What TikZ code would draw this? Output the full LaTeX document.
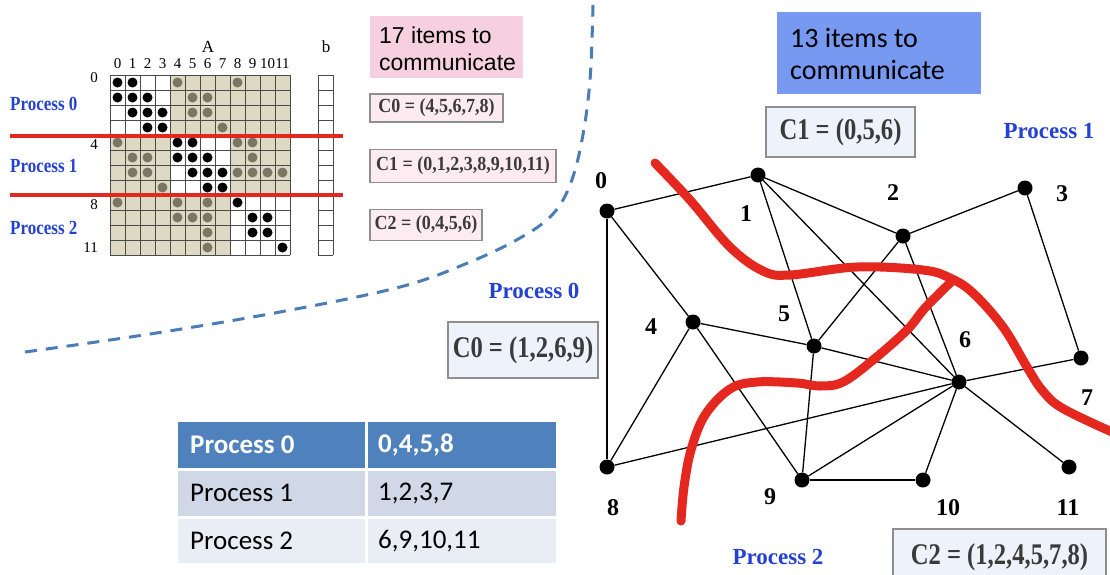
\documentclass[tikz,border=0pt]{standalone}
\usepackage{fontspec}
\setmainfont{Liberation Serif}
\newfontfamily\arialf{Liberation Sans}
\newfontfamily\calibf{Carlito}
\newfontfamily\condg[FakeStretch=0.82]{Liberation Serif}
\newfontfamily\condm[FakeStretch=0.9]{Liberation Serif}
\newfontfamily\condp[FakeStretch=0.85]{Liberation Serif}
\definecolor{beige}{HTML}{DDD9C3}
\definecolor{dotgray}{HTML}{7A7664}
\definecolor{pblue}{HTML}{2442D2}
\definecolor{redc}{HTML}{E4281F}
\definecolor{dashblue}{HTML}{4A7DB5}
\definecolor{pinkbox}{HTML}{F6D0DF}
\definecolor{lpink}{HTML}{FCEBF0}
\definecolor{lblue}{HTML}{EEF2FA}
\definecolor{bluebox}{HTML}{7799F2}
\definecolor{boxgray}{HTML}{8E8E8E}
\definecolor{boxtext}{HTML}{3A3A3A}
\definecolor{thead}{HTML}{4F81BD}
\definecolor{trowa}{HTML}{D0D8E8}
\definecolor{trowb}{HTML}{E9EDF4}
\definecolor{gridc}{HTML}{4A4A4A}
\begin{document}
\begin{tikzpicture}[x=1pt,y=-1pt,
  gnode/.style={circle, fill=black, inner sep=0pt, minimum size=15pt},
  glabel/.style={font=\fontsize{24}{24}\selectfont\bfseries},
  gedge/.style={line width=1.3pt},
  proc/.style={text=pblue, inner sep=0pt},
  procm/.style={proc, anchor=west, font=\condp\fontsize{20}{20}\selectfont\bfseries},
  procg/.style={proc, font=\fontsize{23}{23}\selectfont\bfseries},
  cbox/.style={draw=boxgray, line width=2.5pt, fill=lblue, inner sep=0pt, text=boxtext,
     font=\condg\fontsize{30}{30}\selectfont\bfseries},
  mbox/.style={draw=boxgray, line width=1.5pt, fill=lpink, inner sep=0pt, text=boxtext,
     font=\condm\fontsize{20}{20}\selectfont\bfseries},
  redcut/.style={draw=redc, line width=9pt, line cap=round},
  gridline/.style={draw=gridc, line width=0.8pt},
  mlabel/.style={font=\fontsize{15}{15}\selectfont, inner sep=0pt},
  ttext/.style={anchor=west, inner sep=0pt, font=\calibf\fontsize{27}{27}\selectfont},
  thtext/.style={ttext, text=white, font=\calibf\fontsize{27}{27}\selectfont\bfseries},
]
\useasboundingbox (0,0) rectangle (1110,574);
\clip (0,0) rectangle (1110,574);
\fill[white] (0,0) rectangle (1110,574);

% ---------------- matrix ----------------
\fill[beige] (110,75) rectangle (290,255);
\fill[white] (110,75) rectangle (170,135);
\fill[white] (170,135) rectangle (230,195);
\fill[white] (230,195) rectangle (290,255);
\foreach \i in {0,...,12}{
  \draw[gridline] (110+15*\i,75) -- (110+15*\i,255);
  \draw[gridline] (110,75+15*\i) -- (290,75+15*\i);
}
% b vector
\foreach \i in {0,...,12}{
  \draw[gridline] (318,75+15*\i) -- (333,75+15*\i);
}
\draw[gridline] (318,75) -- (318,255);
\draw[gridline] (333,75) -- (333,255);

\foreach \r/\c in {0/0,0/1,1/0,1/1,1/2,2/1,2/2,2/3,3/2,3/3,4/4,4/5,5/4,5/5,5/6,6/5,6/6,6/7,7/6,7/7,8/8,9/9,9/10,10/9,10/10,11/11}
  \fill[black] (117.5+15*\c,82.5+15*\r) circle[radius=5pt];
\foreach \r/\c in {0/4,0/8,1/5,1/6,2/5,2/6,3/7,4/0,4/8,4/9,5/1,5/2,5/9,6/1,6/2,6/8,6/9,6/10,6/11,7/3,8/0,8/4,8/6,9/4,9/5,9/6,10/6,11/6}
  \fill[dotgray] (117.5+15*\c,82.5+15*\r) circle[radius=5pt];

\foreach \c in {0,...,11}
  \node[mlabel] (col\c) at (117.5+15*\c,64) {\c};
\node[font=\fontsize{17}{17}\selectfont, inner sep=0pt] (Alab) at (208,47) {A};
\node[font=\fontsize{17}{17}\selectfont, inner sep=0pt] (blab) at (326,47) {b};
\node[mlabel, anchor=east] (r0) at (98,78) {0};
\node[mlabel, anchor=east] (r4) at (98,145) {4};
\node[mlabel, anchor=east] (r8) at (98,205) {8};
\node[mlabel, anchor=east] (r11) at (98,248) {11};

\draw[draw=redc, line width=4pt] (10,136) -- (343,136);
\draw[draw=redc, line width=4pt] (10,195) -- (343,195);

\node[procm] (mp0) at (10,104) {Process 0};
\node[procm] (mp1) at (10,166) {Process 1};
\node[procm] (mp2) at (10,228) {Process 2};

% boxes next to matrix
\fill[pinkbox] (370,16) rectangle (523,78);
\node[anchor=base west, inner sep=0pt, font=\arialf\fontsize{23}{23}\selectfont] (t17a) at (379,43) {17 items to};
\node[anchor=base west, inner sep=0pt, font=\arialf\fontsize{23}{23}\selectfont] (t17b) at (379,70) {communicate};

\node[mbox, minimum width=133pt, minimum height=28pt] (mc0) at (436.5,108) {C0 = (4,5,6,7,8)};
\node[mbox, minimum width=186pt, minimum height=33pt] (mc1) at (463,166) {C1 = (0,1,2,3,8,9,10,11)};
\node[mbox, minimum width=112pt, minimum height=31pt] (mc2) at (426,225) {C2 = (0,4,5,6)};

% dashed separator
\draw[dashblue, line width=3pt, dash pattern=on 12pt off 9pt]
  plot[smooth, tension=0.6] coordinates {(25,352) (150,334) (280,312) (400,287) (470,262) (520,238) (552,215) (570,185) (582,140) (590,80) (593,5)};

% ---------------- graph ----------------
\fill[bluebox] (777,12) rectangle (981,94);
\node[anchor=base west, inner sep=0pt, font=\calibf\fontsize{28}{28}\selectfont] (t13a) at (790,47) {13 items to};
\node[anchor=base west, inner sep=0pt, font=\calibf\fontsize{28}{28}\selectfont] (t13b) at (790,79) {communicate};

\node[cbox, minimum width=149pt, minimum height=50pt] (gc1) at (840.5,132) {C1 = (0,5,6)};
\node[cbox, minimum width=150pt, minimum height=56pt] (gc0) at (523,350) {C0 = (1,2,6,9)};
\node[cbox, minimum width=213pt, minimum height=56pt] (gc2) at (999.5,557) {C2 = (1,2,4,5,7,8)};

\node[procg] (gp1) at (1049,131) {Process 1};
\node[procg] (gp0) at (534,291) {Process 0};
\node[procg] (gp2) at (778,557) {Process 2};

\node[gnode] (n0) at (607,211) {};
\node[gnode] (n1) at (758,175) {};
\node[gnode] (n2) at (903,236) {};
\node[gnode] (n3) at (1025,188) {};
\node[gnode] (n4) at (693,322) {};
\node[gnode] (n5) at (814,346) {};
\node[gnode] (n6) at (959,382) {};
\node[gnode] (n7) at (1081,358) {};
\node[gnode] (n8) at (607,467) {};
\node[gnode] (n9) at (802,480) {};
\node[gnode] (n10) at (923,480) {};
\node[gnode] (n11) at (1069,467) {};

\foreach \a/\b in {0/1,0/4,0/8,1/2,1/5,1/6,2/3,2/5,2/6,3/7,4/5,4/8,4/9,5/6,5/9,6/7,6/8,6/9,6/10,6/11,9/10}
  \draw[gedge] (n\a) -- (n\b);

\draw[redcut] plot[smooth, tension=0.6] coordinates {(655,163) (690,200) (730,247) (763,271) (790,275) (857,267) (923,270) (950,278) (973,293) (1003,327) (1027,367) (1042,390) (1062,408) (1112,432)};
\draw[redcut] plot[smooth, tension=0.6] coordinates {(952,281) (925,308) (907,330) (873,360) (843,382) (820,386) (797,383) (757,382) (730,389) (705,415) (691,450) (684,487) (681,521)};

\node[glabel] (l0) at (601,181) {0};
\node[glabel] (l1) at (746,214) {1};
\node[glabel] (l2) at (893,193) {2};
\node[glabel] (l3) at (1062,194) {3};
\node[glabel] (l4) at (651,327) {4};
\node[glabel] (l5) at (784,314) {5};
\node[glabel] (l6) at (965,340) {6};
\node[glabel] (l7) at (1087,398) {7};
\node[glabel] (l8) at (613,508) {8};
\node[glabel] (l9) at (770,497) {9};
\node[glabel] (l10) at (948,508) {10};
\node[glabel] (l11) at (1068,508) {11};

% ---------------- table ----------------
\fill[thead] (178,422) rectangle (365,468);
\fill[thead] (368,422) rectangle (556,468);
\fill[trowa] (178,471) rectangle (365,516);
\fill[trowa] (368,471) rectangle (556,516);
\fill[trowb] (178,519) rectangle (365,563);
\fill[trowb] (368,519) rectangle (556,563);
\node[thtext] (h1) at (190,445) {Process 0};
\node[thtext] (h2) at (378,445) {0,4,5,8};
\node[ttext] (a1) at (190,493) {Process 1};
\node[ttext] (a2) at (378,493) {1,2,3,7};
\node[ttext] (b1) at (190,541) {Process 2};
\node[ttext] (b2) at (378,541) {6,9,10,11};
\end{tikzpicture}
\end{document}
